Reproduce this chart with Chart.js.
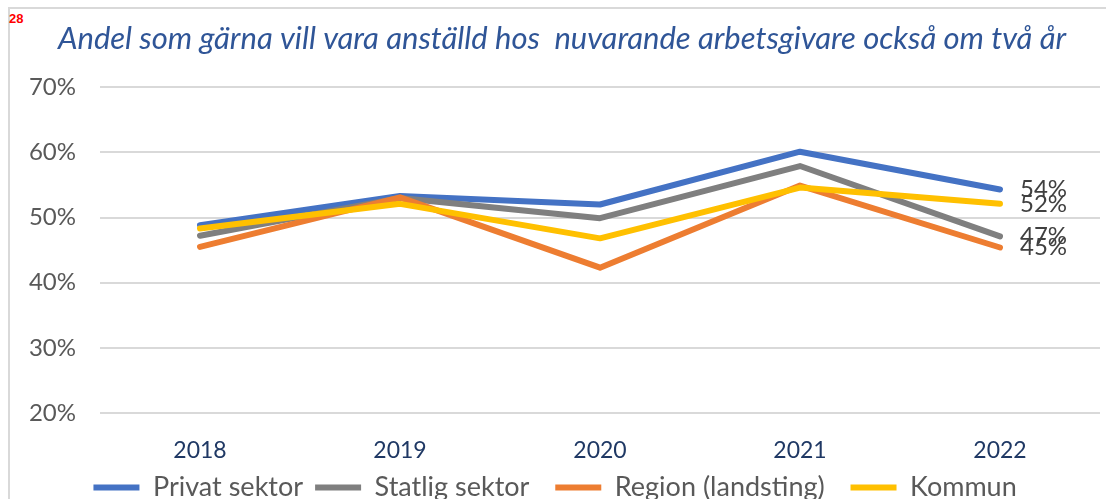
<!DOCTYPE html>
<html>
<head>
<meta charset="utf-8">
<title>Andel som gärna vill vara anställd</title>
<script src="https://cdn.jsdelivr.net/npm/chart.js@4.4.0/dist/chart.umd.min.js"></script>
<style>
  body { margin: 0; overflow: hidden; background: #fff; }
  #frame { position: absolute; left: 8px; top: 7px; width: 1300px; height: 700px; border: 2px solid #D9D9D9; }
  #num { position: absolute; left: 9px; top: 11px; color: #FF0000; font: bold 13px "Liberation Sans", sans-serif; }
  #wrap { position: absolute; left: 0; top: 0; width: 1106px; height: 511px; }
</style>
</head>
<body>
<div id="frame"></div>
<div id="num">28</div>
<div id="wrap"><canvas id="chart"></canvas></div>
<script>
const years = ['2018', '2019', '2020', '2021', '2022'];
const privat = [48.8, 53.3, 52.0, 60.1, 54.3];
const statlig = [47.2, 53.0, 49.9, 57.9, 47.1];
const region = [45.5, 53.1, 42.3, 54.9, 45.4];
const kommun = [48.3, 52.1, 46.8, 54.6, 52.1];
const yTicks = [20, 30, 40, 50, 60, 70];

const FONT = 'Lato, "Open Sans", sans-serif';

function series(label, data, color, order) {
    return {
        label: label,
        data: data,
        borderColor: color,
        backgroundColor: color,
        borderWidth: 6,
        borderCapStyle: 'round',
        borderJoinStyle: 'round',
        pointRadius: 0,
        tension: 0,
        order: order
    };
}

// value labels after the last point of each line
const endLabels = {
    id: 'endLabels',
    afterDatasetsDraw(chart) {
        const ctx = chart.ctx;
        ctx.save();
        ctx.font = '24px ' + FONT;
        ctx.fillStyle = '#404040';
        ctx.textAlign = 'left';
        ctx.textBaseline = 'middle';
        chart.data.datasets.forEach(function(ds, i) {
            const meta = chart.getDatasetMeta(i);
            const pt = meta.data[meta.data.length - 1];
            const v = ds.data[ds.data.length - 1];
            ctx.fillText(Math.round(v) + '%', pt.x + 20, pt.y);
        });
        ctx.restore();
    }
};

const defaultLabels = Chart.defaults.plugins.legend.labels.generateLabels;

new Chart(document.getElementById('chart'), {
    type: 'line',
    data: {
        labels: years,
        datasets: [
            series('Privat sektor', privat, '#4472C4', 3),
            series('Statlig sektor', statlig, '#7F7F7F', 2),
            series('Region (landsting)', region, '#ED7D31', 1),
            series('Kommun', kommun, '#FFC000', 0)
        ]
    },
    options: {
        responsive: true,
        maintainAspectRatio: false,
        animation: false,
        layout: { padding: { left: 24, right: 6, top: 0, bottom: 0 } },
        plugins: {
            title: {
                display: true,
                text: 'Andel som gärna vill vara anställd hos  nuvarande arbetsgivare också om två år',
                color: '#2F5597',
                font: { family: FONT, size: 31, style: 'italic', weight: 'normal', lineHeight: 1.2 },
                padding: { top: 20, bottom: 30 }
            },
            legend: {
                position: 'bottom',
                labels: {
                    usePointStyle: true,
                    pointStyle: 'line',
                    pointStyleWidth: 46,
                    boxHeight: 27,
                    padding: 12,
                    color: '#595959',
                    font: { family: FONT, size: 27 },
                    sort: (a, b) => a.datasetIndex - b.datasetIndex,
                    // a little extra room after each entry, as in the original
                    generateLabels: function(chart) {
                        const items = defaultLabels(chart);
                        items.forEach(function(it, i) {
                            if (i < items.length - 1) it.text = it.text + '  ';
                        });
                        return items;
                    }
                }
            },
            tooltip: { enabled: false }
        },
        scales: {
            x: {
                offset: true,
                grid: { display: false, drawTicks: false },
                border: { display: false },
                afterFit: function(axis) { axis.height = 49; },
                ticks: { color: '#1F3864', padding: 24, font: { family: FONT, size: 23 } }
            },
            y: {
                min: yTicks[0],
                max: yTicks[yTicks.length - 1],
                afterFit: function(axis) { axis.width = 76; },
                grid: { color: '#D9D9D9', lineWidth: 2, drawTicks: false },
                border: { display: false },
                ticks: {
                    stepSize: 10,
                    color: '#595959',
                    padding: 24,
                    font: { family: FONT, size: 24 },
                    callback: v => v + '%'
                }
            }
        }
    },
    plugins: [endLabels]
});
</script>
</body>
</html>
